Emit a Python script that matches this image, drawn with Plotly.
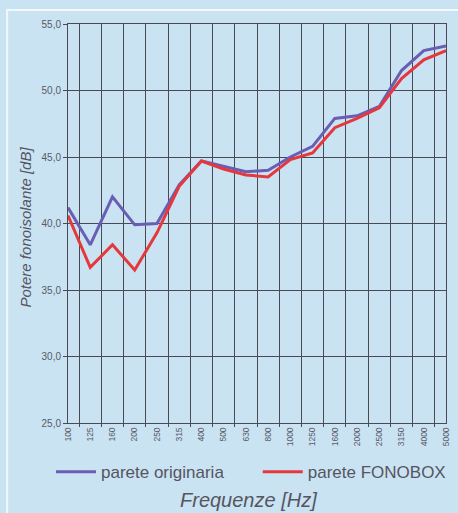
import plotly.graph_objects as go

freqs = ["100", "125", "160", "200", "250", "315", "400", "500", "630", "800",
         "1000", "1250", "1600", "2000", "2500", "3150", "4000", "5000"]
originaria = [41.2, 38.4, 42.0, 39.9, 40.0, 42.9, 44.7, 44.3, 43.9, 44.0,
              45.0, 45.8, 47.9, 48.1, 48.8, 51.5, 53.0, 53.35]
fonobox = [40.6, 36.7, 38.4, 36.5, 39.3, 42.8, 44.7, 44.1, 43.65, 43.5,
           44.8, 45.3, 47.2, 47.9, 48.7, 50.9, 52.3, 53.0]
y_ticks = [25, 30, 35, 40, 45, 50, 55]
y_labels = ["25,0", "30,0", "35,0", "40,0", "45,0", "50,0", "55,0"]

BG = "#c9e3f3"
GRID = "#4a4a55"
TXT = "#5a5a66"

fig = go.Figure()
fig.add_trace(go.Scatter(x=freqs, y=originaria, mode="lines", name="parete originaria",
                         line=dict(color="#6a5eb4", width=3), legend="legend"))
fig.add_trace(go.Scatter(x=freqs, y=fonobox, mode="lines", name="parete FONOBOX",
                         line=dict(color="#e5383c", width=3), legend="legend2"))

leg_common = dict(font=dict(size=17, color="#555560"), bgcolor="rgba(0,0,0,0)",
                  yanchor="middle", xanchor="left", y=-0.123, itemwidth=40)

fig.update_layout(
    width=458, height=513,
    margin=dict(l=68, r=12, t=24, b=90, autoexpand=False),
    paper_bgcolor=BG, plot_bgcolor=BG,
    font=dict(family="Liberation Sans, Arial, sans-serif", color=TXT),
    showlegend=True,
    legend=dict(x=-0.045, **leg_common),
    legend2=dict(x=0.502, **leg_common),
    xaxis=dict(type="category", tickson="boundaries", showgrid=True, gridcolor=GRID,
               gridwidth=1, tickangle=-90, tickfont=dict(size=8.5, color=TXT),
               showline=True, linecolor=GRID, linewidth=1, mirror=True,
               ticks="outside", ticklen=3, tickcolor=GRID, fixedrange=True),
    yaxis=dict(range=[25, 55], tickvals=y_ticks, ticktext=y_labels, showgrid=True,
               gridcolor=GRID, gridwidth=1, tickfont=dict(size=10, color=TXT),
               showline=True, linecolor=GRID, linewidth=1, mirror=True,
               ticks="outside", ticklen=4, tickcolor=GRID, zeroline=False),
    annotations=[
        dict(text="<i>Frequenze [Hz]</i>", x=(248 - 68) / 378, y=-0.193, xref="paper",
             yref="paper", xanchor="center", yanchor="middle", showarrow=False,
             font=dict(size=20, color="#555560")),
        dict(text="<i>Potere fonoisolante [dB]</i>", x=(25 - 68) / 378, y=0.49, xref="paper",
             yref="paper", xanchor="center", yanchor="middle", textangle=-90,
             showarrow=False, font=dict(size=15, color="#555560")),
    ],
    shapes=[
        dict(type="rect", xref="paper", yref="paper", x0=-0.161, x1=1.1, y0=-0.4, y1=1.035,
             line=dict(color="#f2f8fc", width=2), fillcolor="rgba(0,0,0,0)", layer="below"),
    ],
)

fig.write_html("out.html",
               config={"displayModeBar": False},
               post_script="document.body.style.margin='0';"
                           "document.body.style.background='" + BG + "';")
